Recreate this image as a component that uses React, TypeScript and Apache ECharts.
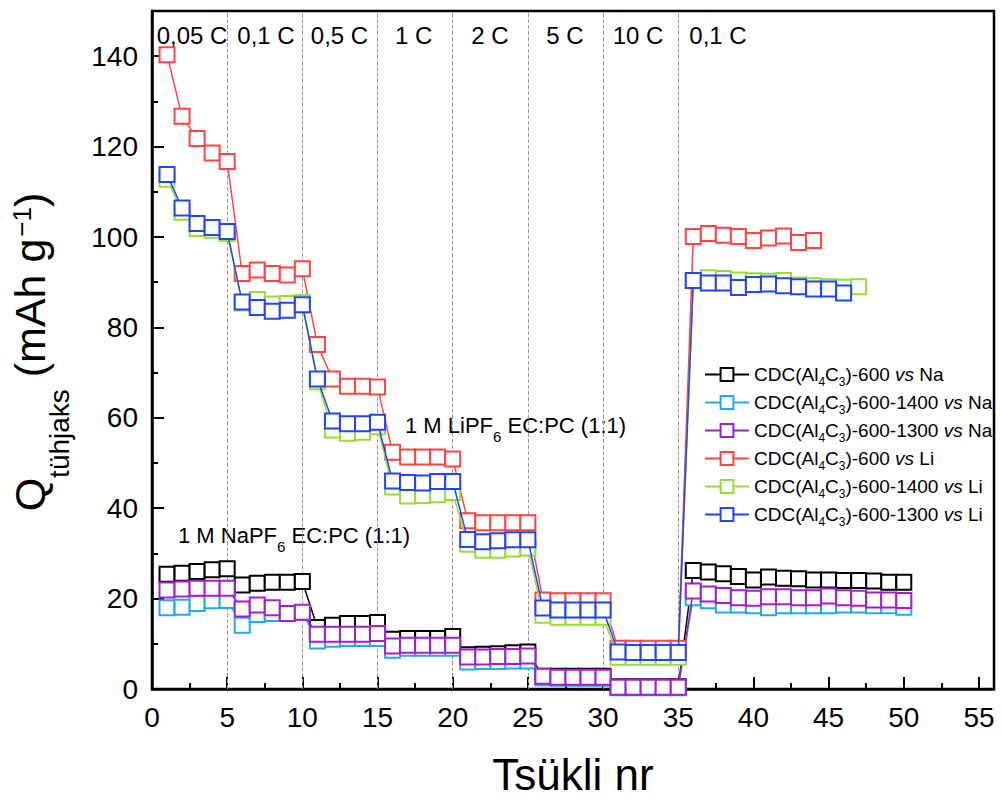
import { useEffect, useRef } from 'react';
import * as echarts from 'echarts';

const FONT = '"Liberation Sans", Arial, sans-serif';

const seriesNames = [
  'CDC(Al4C3)-600 vs Na',
  'CDC(Al4C3)-600-1400 vs Na',
  'CDC(Al4C3)-600-1300 vs Na',
  'CDC(Al4C3)-600 vs Li',
  'CDC(Al4C3)-600-1400 vs Li',
  'CDC(Al4C3)-600-1300 vs Li',
];
const seriesColors = ['#000000', '#22AAEE', '#A020D0', '#FF4444', '#99DD33', '#2244FF'];

// capacity values per cycle (cycle 1 .. n)
const na600 = [
  25.4, 25.6, 26.0, 26.4, 26.6, 23.0, 23.4, 23.6, 23.6, 23.8,
  13.6, 14.1, 14.5, 14.5, 14.7, 11.0, 11.2, 11.2, 11.2, 11.6,
  7.6, 7.7, 7.8, 8.0, 8.2, 2.8, 2.8, 2.8, 2.8, 2.8,
  0.5, 0.5, 0.5, 0.5, 0.5, 26.2, 25.9, 25.5, 24.9, 24.1,
  24.8, 24.5, 24.4, 24.1, 24.1, 24.0, 24.0, 23.9, 23.6, 23.6,
];
const na1400 = [
  18.0, 18.1, 18.9, 19.5, 19.6, 14.1, 16.5, 16.7, 16.7, 16.9,
  10.6, 11.0, 11.2, 11.2, 11.2, 8.6, 9.0, 9.0, 9.0, 9.0,
  6.0, 6.1, 6.1, 6.2, 6.2, 2.5, 2.4, 2.4, 2.4, 2.4,
  0.3, 0.3, 0.3, 0.3, 0.3, 20.2, 19.5, 18.6, 18.6, 18.4,
  18.0, 18.4, 18.4, 18.4, 18.4, 18.6, 18.6, 18.4, 18.4, 18.1,
];
const na1300 = [
  21.9, 22.1, 22.3, 22.3, 22.3, 17.7, 18.6, 18.0, 16.7, 17.0,
  12.1, 12.1, 12.1, 12.1, 12.3, 9.5, 9.7, 9.7, 9.7, 9.7,
  7.1, 7.1, 7.2, 7.2, 7.3, 2.8, 2.6, 2.6, 2.6, 2.6,
  0.4, 0.4, 0.4, 0.4, 0.4, 21.7, 21.0, 20.7, 20.2, 20.1,
  20.4, 20.4, 20.2, 20.2, 20.6, 20.2, 20.1, 19.7, 19.7, 19.6,
];
const li600 = [
  140.3, 126.7, 121.8, 118.6, 116.7, 91.9, 92.7, 91.9, 91.6, 93.0,
  76.2, 68.6, 67.0, 67.0, 66.8, 52.4, 51.3, 51.3, 51.3, 50.9,
  37.2, 36.8, 36.8, 36.8, 36.8, 19.7, 19.5, 19.5, 19.5, 19.5,
  9.0, 9.0, 9.0, 9.0, 9.0, 100.1, 100.8, 100.4, 100.1, 99.2,
  99.8, 100.2, 98.8, 99.2,
];
const li1400 = [
  112.8, 105.5, 101.9, 101.5, 100.8, 85.4, 86.2, 85.2, 85.3, 85.5,
  68.0, 57.3, 56.6, 56.8, 58.0, 44.7, 42.7, 42.8, 43.0, 43.5,
  32.0, 30.7, 30.7, 31.0, 31.2, 16.3, 15.9, 15.9, 15.9, 15.9,
  7.0, 7.0, 7.0, 7.0, 7.0, 90.4, 91.0, 90.8, 90.5, 90.3,
  90.2, 90.4, 89.4, 89.2, 89.0, 88.9, 89.0,
];
const li1300 = [
  113.8, 106.4, 103.0, 102.1, 101.2, 85.6, 84.4, 83.6, 83.8, 85.0,
  68.6, 59.3, 58.7, 58.7, 59.0, 46.0, 45.7, 45.6, 45.9, 45.9,
  33.1, 32.6, 32.8, 33.0, 33.0, 17.9, 17.5, 17.5, 17.5, 17.5,
  8.2, 8.1, 8.1, 8.1, 8.1, 90.4, 89.8, 89.8, 88.8, 89.5,
  89.6, 89.2, 89.0, 88.5, 88.5, 87.6,
];
const seriesValues = [na600, na1400, na1300, li600, li1400, li1300];

const rateDividers = [5, 10, 15, 20, 25, 30, 35];
const rateLabels = ['0,05 C', '0,1 C', '0,5 C', '1 C', '2 C', '5 C', '10 C', '0,1 C'];
const rateLabelX = [192, 266, 339.5, 413.6, 490, 565, 638, 718];

const xTitle = 'Tsükli nr';

function legendFormat(name: string) {
  const m = name.match(/^CDC\(Al4C3\)(.*) vs (.*)$/);
  if (!m) return name;
  return `{n|CDC(Al}{s|4}{n|C}{s|3}{n|)${m[1]} }{i|vs}{n| ${m[2]}}`;
}

export default function App() {
  const ref = useRef<HTMLDivElement>(null);
  useEffect(() => {
    if (!ref.current) return;
    const chart = echarts.init(ref.current, undefined, { renderer: 'svg' });

    const series: any[] = seriesValues.map((vals, si) => ({
      type: 'line',
      name: seriesNames[si],
      data: vals.map((v, i) => [i + 1, v]),
      symbol: 'rect',
      symbolSize: 15,
      showSymbol: true,
      color: seriesColors[si],
      lineStyle: { color: seriesColors[si], width: 1.5 },
      itemStyle: { color: '#ffffff', borderColor: seriesColors[si], borderWidth: 2 },
      emphasis: { disabled: true },
      z: 3 + si,
    }));
    series[0].markLine = {
      silent: true,
      symbol: ['none', 'none'],
      label: { show: false },
      lineStyle: { type: 'dashed', color: '#999999', width: 1 },
      data: rateDividers.map((x) => ({ xAxis: x })),
      z: 1,
    };

    const graphics: any[] = rateLabels.map((t, i) => ({
      type: 'text',
      x: rateLabelX[i],
      y: 35,
      style: {
        text: t,
        font: `24px ${FONT}`,
        fill: '#000',
        align: 'center',
        verticalAlign: 'middle',
      },
    }));
    const annStyleRich = {
      n: { fontSize: 22, fontFamily: FONT, color: '#000', verticalAlign: 'top', lineHeight: 22 },
      s: { fontSize: 15, fontFamily: FONT, color: '#000', verticalAlign: 'top', lineHeight: 15, padding: [15, 0, 0, 0] },
    };
    graphics.push({
      type: 'text',
      x: 178,
      y: 535,
      style: {
        text: '{n|1 M NaPF}{s|6}{n| EC:PC (1:1)}',
        align: 'left',
        verticalAlign: 'middle',
        fill: '#000',
        rich: annStyleRich,
      },
    });
    graphics.push({
      type: 'text',
      x: 405,
      y: 425,
      style: {
        text: '{n|1 M LiPF}{s|6}{n| EC:PC (1:1)}',
        align: 'left',
        verticalAlign: 'middle',
        fill: '#000',
        rich: annStyleRich,
      },
    });
    graphics.push({
      type: 'text',
      x: 30,
      y: 352,
      rotation: Math.PI / 2,
      style: {
        text: '{m|Q}{s|tühjaks}{m| (mAh g}{p|−1}{m|)}',
        align: 'center',
        verticalAlign: 'middle',
        fill: '#000',
        rich: {
          m: { fontSize: 43, fontFamily: FONT, color: '#000', verticalAlign: 'top', lineHeight: 43 },
          s: { fontSize: 28, fontFamily: FONT, color: '#000', verticalAlign: 'top', lineHeight: 28, padding: [37, 0, 0, 0] },
          p: { fontSize: 26, fontFamily: FONT, color: '#000', verticalAlign: 'top', lineHeight: 26, padding: [0, 0, 0, 2] },
        },
      },
    });

    const option: any = {
      animation: false,
      backgroundColor: '#ffffff',
      grid: {
        left: 152, right: 8, top: 11, bottom: 113,
        show: true, borderColor: '#000', borderWidth: 2.5, backgroundColor: 'transparent',
      },
      legend: {
        orient: 'vertical',
        left: 699,
        top: 360,
        itemWidth: 44,
        itemHeight: 16,
        itemGap: 5,
        data: seriesNames,
        formatter: legendFormat,
        selectedMode: false,
        textStyle: {
          fontSize: 19,
          fontFamily: FONT,
          color: '#000',
          rich: {
            n: { fontSize: 19, fontFamily: FONT, color: '#000', verticalAlign: 'top', lineHeight: 19 },
            i: { fontSize: 19, fontFamily: FONT, color: '#000', fontStyle: 'italic', verticalAlign: 'top', lineHeight: 19 },
            s: { fontSize: 12, fontFamily: FONT, color: '#000', verticalAlign: 'top', lineHeight: 12, padding: [11, 0, 0, 0] },
          },
        },
      },
      xAxis: {
        type: 'value',
        min: 0,
        max: 56,
        interval: 5,
        name: xTitle,
        nameLocation: 'middle',
        nameGap: 63,
        nameTextStyle: { fontSize: 44, fontFamily: FONT, color: '#000' },
        axisLine: { onZero: false, lineStyle: { color: '#000', width: 2.5 } },
        axisTick: { inside: true, length: 12, lineStyle: { color: '#000', width: 2 } },
        minorTick: { show: true, splitNumber: 2, length: 6, lineStyle: { color: '#000', width: 2 } },
        axisLabel: { fontSize: 28, fontFamily: FONT, color: '#000', margin: 14, showMaxLabel: false },
        splitLine: { show: false },
      },
      yAxis: {
        type: 'value',
        min: 0,
        max: 150,
        interval: 20,
        axisLine: { show: true, onZero: false, lineStyle: { color: '#000', width: 2.5 } },
        axisTick: { show: true, inside: true, length: 12, lineStyle: { color: '#000', width: 2 } },
        minorTick: { show: true, splitNumber: 2, length: 6, lineStyle: { color: '#000', width: 2 } },
        axisLabel: { fontSize: 28, fontFamily: FONT, color: '#000', margin: 14, showMaxLabel: false },
        splitLine: { show: false },
      },
      graphic: graphics,
      series,
    };
    chart.setOption(option);
    return () => chart.dispose();
  }, []);
  return (
    <div
      ref={ref}
      style={{ position: 'absolute', left: 0, top: 0, width: 1002, height: 802, background: '#fff' }}
    />
  );
}
